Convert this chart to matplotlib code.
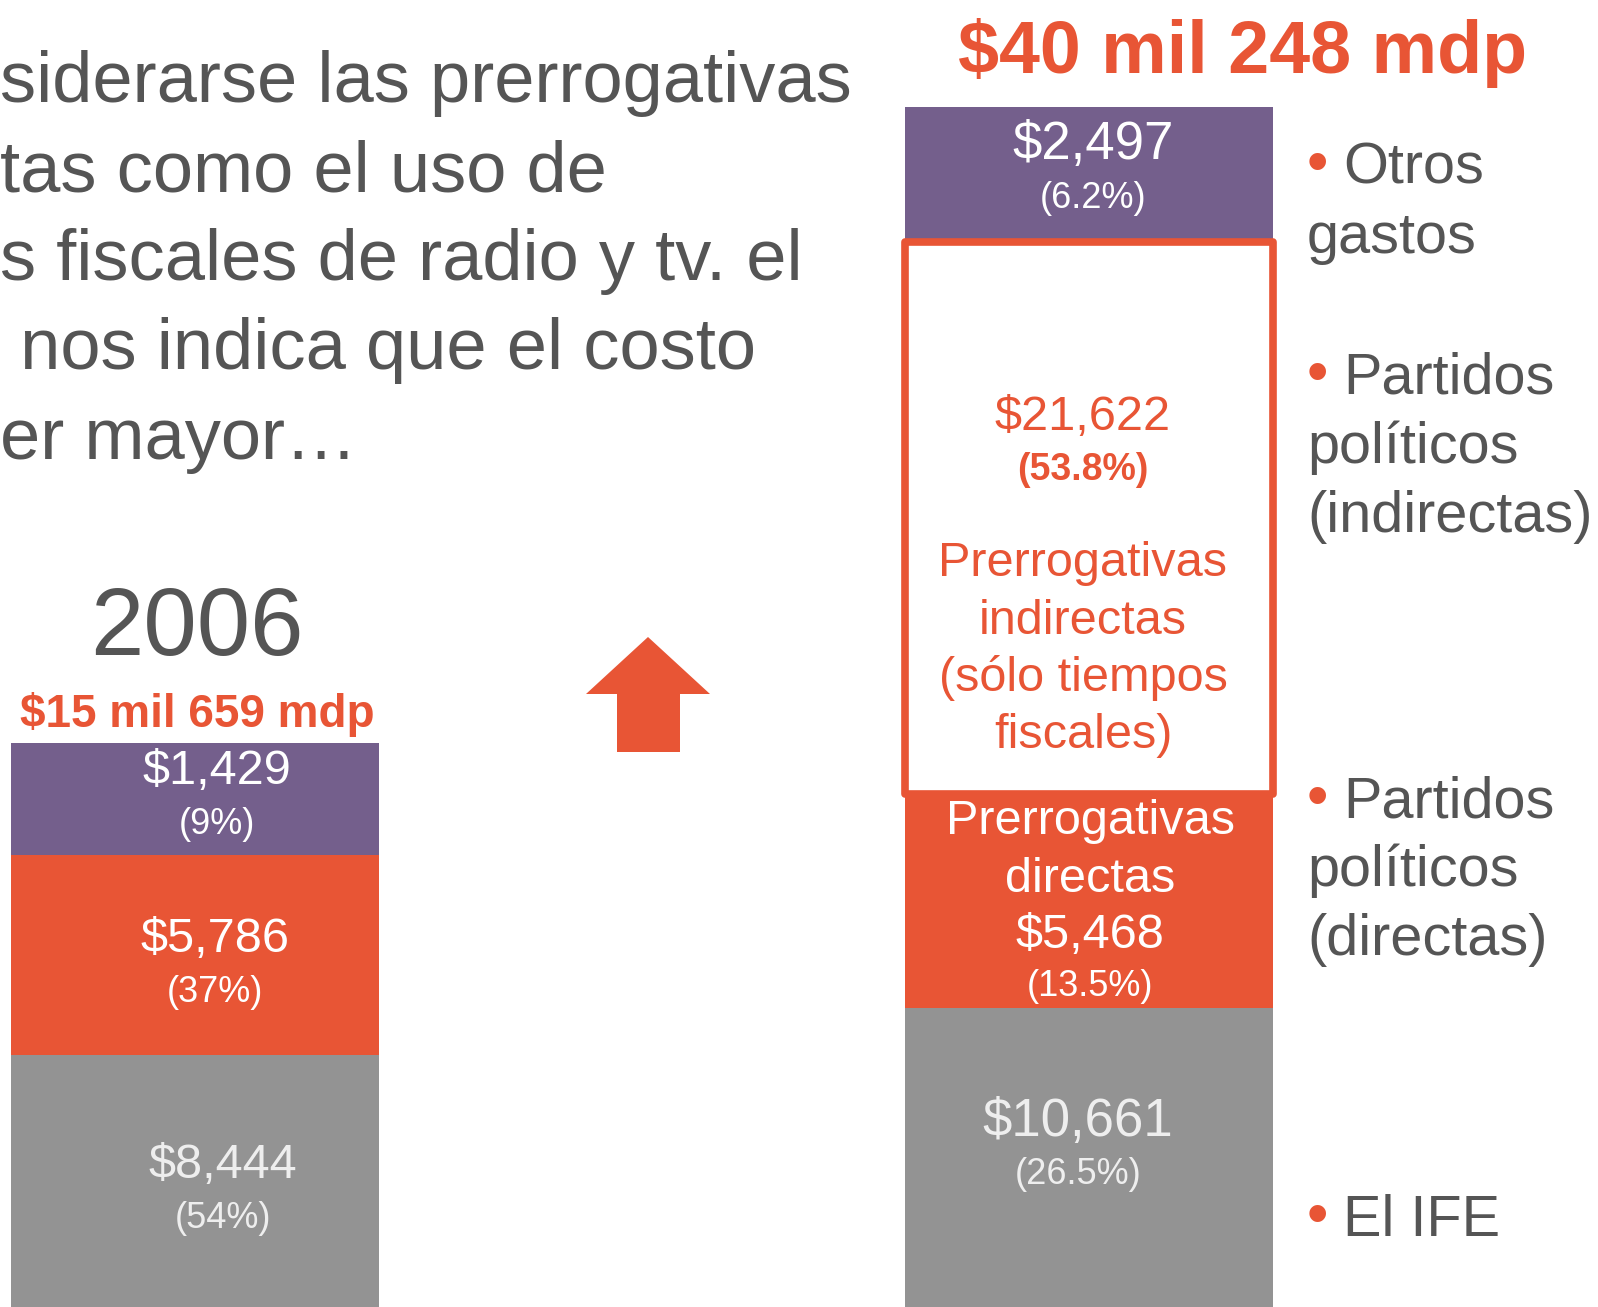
import matplotlib
matplotlib.use("Agg")
import matplotlib.pyplot as plt
from matplotlib.patches import Polygon

# ==================================================
# DATA (millones de pesos)
# ==================================================

# 2006, from bottom to top: IFE, partidos (directas), otros gastos
monto_2006 = [8444, 5786, 1429]
pct_2006 = [54, 37, 9]
# segment heights as drawn on the slide (the slide is not to scale)
alto_2006 = [252, 200, 112]

# new model, from bottom to top: IFE, directas, indirectas, otros gastos
monto_nuevo = [10661, 5468, 21622, 2497]
pct_nuevo = [26.5, 13.5, 53.8, 6.2]
alto_nuevo = [299, 214, 552, 135]

total_2006 = "$15 mil 659 mdp"
total_nuevo = "$40 mil 248 mdp"

texto = ["siderarse las prerrogativas",
         "tas como el uso de",
         "s fiscales de radio y tv. el",
         " nos indica que el costo",
         "er mayor…"]

leyenda = [["Otros", "gastos"],
           ["Partidos", "políticos", "(indirectas)"],
           ["Partidos", "políticos", "(directas)"],
           ["El IFE"]]

# colors
GRIS_TXT = "#555555"
NARANJA = "#E85535"
MORADO = "#745F8C"
GRIS = "#939393"

plt.rcParams["font.family"] = ["Liberation Sans", "DejaVu Sans"]

W, H = 1598, 1307
fig = plt.figure(figsize=(W / 100, H / 100), dpi=100)
ax = fig.add_axes([0, 0, 1, 1])
ax.set_xlim(0, W)
ax.set_ylim(0, H)
ax.axis("off")


def yy(y_down):
    # slide pixel measured from the top -> axes y
    return H - y_down


# ==================================================
# TEXT BLOCK (top left)
# ==================================================
x_lineas = [0, 0, 0, 0, 0]
y_lineas = [102, 192, 280, 369, 459]
for t, x, y in zip(texto, x_lineas, y_lineas):
    ax.text(x, yy(y), t, fontsize=52, color=GRIS_TXT, ha="left", va="baseline")

# ==================================================
# BAR 2006
# ==================================================
x_izq, ancho = 195, 368
colores_2006 = [GRIS, NARANJA, MORADO]
base = 0
centros_2006 = []
for h, c in zip(alto_2006, colores_2006):
    ax.bar(x_izq, h, bottom=base, width=ancho, color=c, linewidth=0)
    centros_2006.append(base + h / 2)
    base += h

ax.text(197, yy(655), "2006", fontsize=69, color=GRIS_TXT, ha="center", va="baseline")
ax.text(197, yy(727), total_2006, fontsize=33, color=NARANJA, fontweight="bold",
        ha="center", va="baseline")

dx_2006 = [28, 20, 22]
dy_2006 = [-10, -10, 1]
txt_col_2006 = ["#EEEEEE", "white", "white"]
for m, p, yc, dx, dy, tc in zip(monto_2006, pct_2006, centros_2006, dx_2006, dy_2006, txt_col_2006):
    ax.text(x_izq + dx, yc + dy + 26, f"${m:,}", fontsize=35, color=tc, ha="center", va="center")
    ax.text(x_izq + dx, yc + dy - 27, f"({p}%)", fontsize=26, color=tc, ha="center", va="center")

# ==================================================
# ARROW
# ==================================================
flecha = [(648, 637), (710, 694), (680, 694), (680, 752), (617, 752), (617, 694), (586, 694)]
ax.add_patch(Polygon([(x, yy(y)) for x, y in flecha], closed=True, color=NARANJA, linewidth=0))

# ==================================================
# NEW BAR
# ==================================================
x_der = 1089
colores_nuevo = [GRIS, NARANJA, "white", MORADO]
base = 0
centros_nuevo = []
for i, (h, c) in enumerate(zip(alto_nuevo, colores_nuevo)):
    if i == 2:
        ax.bar(x_der, h, bottom=base, width=ancho, color=c, edgecolor=NARANJA,
               linewidth=5.5, joinstyle="round", zorder=3)
    else:
        ax.bar(x_der, h, bottom=base, width=ancho, color=c, linewidth=0, zorder=2)
    centros_nuevo.append(base + h / 2)
    base += h

ax.text(1243, yy(73), total_nuevo, fontsize=53, color=NARANJA, fontweight="bold",
        ha="center", va="baseline")

# otros gastos
yc = centros_nuevo[3]
ax.text(x_der + 4, yc + 29, f"${monto_nuevo[3]:,}", fontsize=38, color="white", ha="center", va="center")
ax.text(x_der + 4, yc - 24, f"({pct_nuevo[3]}%)", fontsize=26, color="white", ha="center", va="center")

# indirectas
ax.text(x_der - 6, yy(418), f"${monto_nuevo[2]:,}", fontsize=35, color=NARANJA, ha="center", va="center", zorder=4)
ax.text(x_der - 6, yy(470), f"({pct_nuevo[2]}%)", fontsize=27, color=NARANJA, fontweight="bold",
        ha="center", va="center", zorder=4)
for t, y in zip(["Prerrogativas", "indirectas", "(sólo tiempos", "fiscales)"], [564, 621, 678, 735]):
    ax.text(x_der - 6, yy(y), t, fontsize=35, color=NARANJA, ha="center", va="center", zorder=4)

# directas
for t, y in zip(["Prerrogativas", "directas", f"${monto_nuevo[1]:,}"], [821, 879, 935]):
    ax.text(x_der + 1, yy(y), t, fontsize=35, color="white", ha="center", va="center", zorder=4)
ax.text(x_der + 1, yy(987), f"({pct_nuevo[1]}%)", fontsize=26, color="white", ha="center", va="center", zorder=4)

# IFE
ax.text(x_der - 11, yy(1122), f"${monto_nuevo[0]:,}", fontsize=38, color="#EEEEEE", ha="center", va="center")
ax.text(x_der - 11, yy(1174), f"({pct_nuevo[0]}%)", fontsize=26, color="#EEEEEE", ha="center", va="center")

# ==================================================
# LEGEND (right)
# ==================================================
y_leyenda = [184, 394, 817, 1236]
for lineas, y0 in zip(leyenda, y_leyenda):
    ax.text(1317, yy(y0 - 17), "•", fontsize=44, color=NARANJA, ha="center", va="center")
    for k, t in enumerate(lineas):
        x = 1343 if k == 0 else 1307
        ax.text(x, yy(y0 + k * 69), t, fontsize=41.5, color=GRIS_TXT, ha="left", va="baseline")

fig.savefig("out.png", dpi=100)
